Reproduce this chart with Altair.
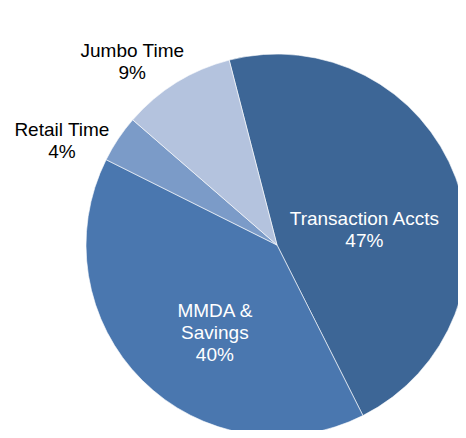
import math
import altair as alt
import pandas as pd

# --- data ---
categories = ["Transaction Accts", "MMDA & Savings", "Retail Time", "Jumbo Time"]
shares = [46.6, 39.8, 4.0, 9.6]
labels = ["Transaction Accts\n47%", "MMDA &\nSavings\n40%", "Retail Time\n4%", "Jumbo Time\n9%"]
slice_colors = ["#3D6696", "#4A77AF", "#7B9BC8", "#B4C3DE"]
slice_order = [0, 1, 2, 3]

df = pd.DataFrame({
    "category": categories,
    "share": shares,
    "label": labels,
    "order": slice_order,
})

start = math.radians(-14.5)
theta_scale = alt.Scale(range=[start, start + 2 * math.pi])
CX, CY, R = 269, 237, 191
FONT = "Liberation Sans"

base = alt.Chart(df)

pie = base.mark_arc(stroke="#ffffff", strokeWidth=0.6, radius=R).encode(
    theta=alt.Theta("share:Q", stack=True, scale=theta_scale),
    color=alt.Color("category:N", scale=alt.Scale(domain=categories, range=slice_colors), legend=None),
    order=alt.Order("order:Q"),
    x=alt.value(CX),
    y=alt.value(CY),
)


def label_layer(cat, radius, dx, dy, color):
    return base.transform_calculate(
        txt=f"datum.category == '{cat}' ? datum.label : ''"
    ).mark_text(
        radius=radius, dx=dx, dy=dy, color=color, font=FONT, fontSize=19,
        lineBreak="\n", lineHeight=22, align="center", baseline="middle",
    ).encode(
        theta=alt.Theta("share:Q", stack=True, scale=theta_scale),
        order=alt.Order("order:Q"),
        text=alt.Text("txt:N"),
        x=alt.value(CX),
        y=alt.value(CY),
    )


chart = alt.layer(
    pie,
    label_layer("Transaction Accts", 88, 5, 5, "#ffffff"),
    label_layer("MMDA & Savings", 105, 12, -8, "#ffffff"),
    label_layer("Retail Time", 237, -18, 17, "#000000"),
    label_layer("Jumbo Time", 233, -22, 4, "#000000"),
).properties(
    width=450, height=422, padding=0,
    autosize=alt.AutoSizeParams(type="none"),
    background="#ffffff",
).configure_view(stroke=None)

chart.save("out.html", embed_options={"renderer": "svg", "actions": False})
